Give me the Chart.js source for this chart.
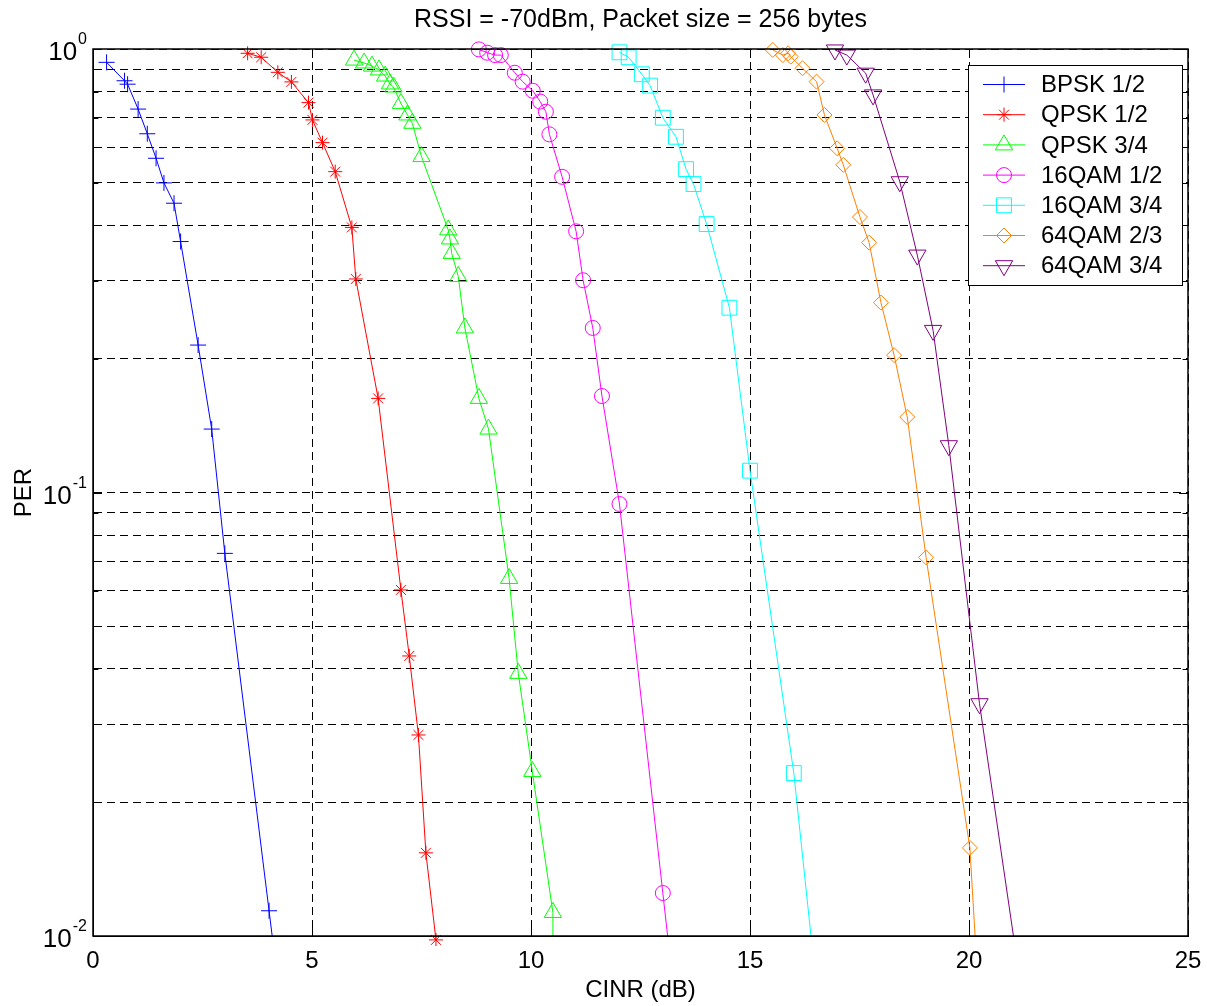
<!DOCTYPE html>
<html>
<head>
<meta charset="utf-8">
<script src="https://cdn.jsdelivr.net/npm/chart.js@4.4.0/dist/chart.umd.min.js"></script>
<style>
  html, body { margin: 0; padding: 0; background: #fff; }
  #wrap { width: 1207px; height: 1006px; position: relative; }
</style>
</head>
<body>
<div id="wrap"><canvas id="per-chart"></canvas></div>
<script>
// --- data (CINR in dB, PER) ---
const xTicks = [0, 5, 10, 15, 20, 25];
const yMajor = [1, 0.1, 0.01];
const labels = ['BPSK 1/2', 'QPSK 1/2', 'QPSK 3/4', '16QAM 1/2', '16QAM 3/4', '64QAM 2/3', '64QAM 3/4'];

const bpskCinr = [0.31, 0.72, 0.79, 1.03, 1.24, 1.44, 1.62, 1.85, 2.0, 2.4, 2.71, 3.01, 4.02, 4.5];
const bpskPer  = [0.933, 0.848, 0.833, 0.732, 0.644, 0.567, 0.499, 0.449, 0.368, 0.215, 0.139, 0.0729, 0.0114, 0.0047];

const qpsk12Cinr = [3.53, 3.84, 4.22, 4.53, 4.92, 5.01, 5.24, 5.53, 5.91, 6.0, 6.51, 7.03, 7.22, 7.43, 7.6, 7.83];
const qpsk12Per  = [0.978, 0.958, 0.886, 0.843, 0.757, 0.692, 0.615, 0.529, 0.396, 0.303, 0.163, 0.0603, 0.0428, 0.0284, 0.0154, 0.0098];

const qpsk34Cinr = [5.96, 6.19, 6.37, 6.53, 6.67, 6.78, 6.86, 7.03, 7.18, 7.29, 7.5, 8.11, 8.15, 8.19, 8.34, 8.49, 8.81, 9.03, 9.5, 9.71, 10.03, 10.5, 10.52];
const qpsk34Per  = [0.944, 0.93, 0.915, 0.897, 0.869, 0.834, 0.821, 0.754, 0.71, 0.68, 0.572, 0.391, 0.373, 0.346, 0.307, 0.235, 0.163, 0.139, 0.064, 0.0391, 0.0235, 0.0113, 0.001];

const qam16r12Cinr = [8.81, 9.0, 9.18, 9.31, 9.63, 9.81, 10.04, 10.21, 10.34, 10.42, 10.71, 11.03, 11.19, 11.41, 11.62, 12.02, 13.01, 13.5];
const qam16r12Per  = [0.998, 0.981, 0.969, 0.969, 0.884, 0.844, 0.805, 0.761, 0.722, 0.642, 0.515, 0.388, 0.301, 0.235, 0.165, 0.0942, 0.0125, 0.0046];

const qam16r34Cinr = [12.02, 12.23, 12.53, 12.72, 13.01, 13.31, 13.54, 13.71, 14.01, 14.53, 15.0, 16.0, 17.0];
const qam16r34Per  = [0.983, 0.958, 0.877, 0.827, 0.7, 0.634, 0.536, 0.496, 0.403, 0.261, 0.112, 0.0233, 0.0027];

const qam64r23Cinr = [15.52, 15.75, 15.87, 15.93, 16.2, 16.52, 16.7, 16.99, 17.13, 17.51, 17.72, 17.99, 18.29, 18.59, 19.02, 20.02, 20.5];
const qam64r23Per  = [0.995, 0.969, 0.978, 0.961, 0.905, 0.844, 0.71, 0.597, 0.548, 0.418, 0.366, 0.268, 0.204, 0.148, 0.0714, 0.0158, 0.0025];

const qam64r34Cinr = [16.94, 17.21, 17.64, 17.81, 18.42, 18.82, 19.18, 19.54, 20.24, 21.5];
const qam64r34Per  = [0.995, 0.969, 0.882, 0.788, 0.502, 0.343, 0.232, 0.1275, 0.0334, 0.0047];

// --- look of each curve (matlab style markers) ---
const FONT = '"Liberation Sans", Arial, Helvetica, sans-serif';
const styles = [
  { color: '#0000ff', point: 'cross',    radius: 8,    rotation: 0 },
  { color: '#ff0000', point: 'star',     radius: 7,    rotation: 0 },
  { color: '#00ff00', point: 'triangle', radius: 10,   rotation: 0 },
  { color: '#ff00ff', point: 'circle',   radius: 7.5,  rotation: 0 },
  { color: '#00ffff', point: 'rect',     radius: 10.5, rotation: 0 },
  { color: '#ff8000', point: 'rectRot',  radius: 7.5,  rotation: 0 },
  { color: '#800080', point: 'triangle', radius: 10,   rotation: 180 }
];
const seriesX = [bpskCinr, qpsk12Cinr, qpsk34Cinr, qam16r12Cinr, qam16r34Cinr, qam64r23Cinr, qam64r34Cinr];
const seriesY = [bpskPer, qpsk12Per, qpsk34Per, qam16r12Per, qam16r34Per, qam64r23Per, qam64r34Per];

const datasets = labels.map((label, i) => {
  const st = styles[i];
  return {
    label: label,
    data: seriesX[i].map((x, k) => ({ x: x, y: seriesY[i][k] })),
    borderColor: st.color,
    borderWidth: 1,
    backgroundColor: 'rgba(0,0,0,0)',
    pointStyle: st.point,
    pointRadius: st.radius,
    pointRotation: st.rotation,
    pointBorderColor: st.color,
    pointBackgroundColor: 'rgba(0,0,0,0)',
    pointBorderWidth: 1,
    tension: 0,
    // markers may poke above the top border; the star at the bottom too
    clip: { left: 0, top: 14, right: 0, bottom: i === 1 ? 10 : 0 }
  };
});

// minor log grid: 1..9 x each decade
const yGridTicks = [];
[0.01, 0.1].forEach(dec => { for (let m = 1; m < 10; m++) yGridTicks.push(+(m * dec).toPrecision(3)); });
yGridTicks.push(1);

// --- plugin: 10^n labels on y axis ---
const yLabelPlugin = {
  id: 'yPowLabels',
  afterDraw(chart) {
    const ctx = chart.ctx;
    const ys = chart.scales.y;
    const right = chart.chartArea.left - 6;
    ctx.save();
    ctx.fillStyle = '#000';
    ctx.textAlign = 'right';
    ctx.textBaseline = 'alphabetic';
    yMajor.forEach(v => {
      const py = ys.getPixelForValue(v);
      const exp = String(Math.round(Math.log10(v)));
      ctx.font = '16px ' + FONT;
      const ew = ctx.measureText(exp).width;
      ctx.fillText(exp, right, py - 5);
      ctx.font = '26px ' + FONT;
      ctx.fillText('10', right - ew - 1, py + 11);
    });
    ctx.restore();
  }
};

// --- plugin: box round the axes and inward ticks ---
const boxPlugin = {
  id: 'axesBox',
  afterDatasetsDraw(chart) {
    const ctx = chart.ctx;
    const a = chart.chartArea;
    const tl = 9;
    ctx.save();
    ctx.strokeStyle = '#000';
    ctx.lineWidth = 1;
    ctx.setLineDash([]);
    ctx.beginPath();
    chart.scales.x.ticks.forEach(t => {
      const px = Math.round(chart.scales.x.getPixelForValue(t.value)) + 0.5;
      ctx.moveTo(px, a.bottom); ctx.lineTo(px, a.bottom - tl);
      ctx.moveTo(px, a.top); ctx.lineTo(px, a.top + tl);
    });
    yGridTicks.forEach(v => {
      const py = Math.round(chart.scales.y.getPixelForValue(v)) + 0.5;
      const len = yMajor.includes(v) ? tl : tl * 0.6;
      ctx.moveTo(a.left, py); ctx.lineTo(a.left + len, py);
      ctx.moveTo(a.right, py); ctx.lineTo(a.right - len, py);
    });
    ctx.stroke();
    ctx.lineWidth = 1.5;
    ctx.strokeRect(Math.round(a.left), Math.round(a.top), Math.round(a.right - a.left), Math.round(a.bottom - a.top));
    ctx.restore();
  }
};

// --- plugin: matlab-like legend box in the upper right ---
const legendPlugin = {
  id: 'boxLegend',
  afterDraw(chart) {
    const ctx = chart.ctx;
    const a = chart.chartArea;
    const w = 214, rowH = 30.2;
    const h = Math.round(rowH * labels.length + 9);
    const left = Math.round(a.right - 6 - w), top = Math.round(a.top + 16);
    ctx.save();
    ctx.fillStyle = '#fff';
    ctx.fillRect(left, top, w, h);
    ctx.strokeStyle = '#000';
    ctx.lineWidth = 1;
    ctx.strokeRect(left + 0.5, top + 0.5, w, h);
    labels.forEach((lab, i) => {
      const st = styles[i];
      const cy = top + 19.5 + i * rowH;
      ctx.strokeStyle = st.color;
      ctx.lineWidth = 1;
      ctx.beginPath();
      ctx.moveTo(left + 15, cy); ctx.lineTo(left + 57, cy);
      ctx.stroke();
      ctx.fillStyle = 'rgba(0,0,0,0)';
      Chart.helpers.drawPoint(ctx, {
        pointStyle: st.point, rotation: st.rotation, radius: st.radius, borderWidth: 1
      }, left + 36, cy);
      ctx.fillStyle = '#000';
      ctx.font = '24px ' + FONT;
      ctx.textAlign = 'left';
      ctx.textBaseline = 'middle';
      ctx.fillText(lab, left + 73, cy + 1);
    });
    ctx.restore();
  }
};

new Chart(document.getElementById('per-chart'), {
  type: 'line',
  data: { datasets: datasets },
  plugins: [boxPlugin, yLabelPlugin, legendPlugin],
  options: {
    responsive: true,
    maintainAspectRatio: false,
    animation: false,
    layout: { padding: { left: 0, right: 19, top: 0, bottom: 0 } },
    plugins: {
      legend: { display: false },
      tooltip: { enabled: false },
      title: {
        display: true,
        fullSize: false,
        text: 'RSSI = -70dBm, Packet size = 256 bytes',
        color: '#000',
        font: { family: FONT, size: 25, weight: 'normal' },
        padding: { top: 5, bottom: 14 }
      }
    },
    scales: {
      x: {
        type: 'linear',
        min: 0, max: 25,
        afterBuildTicks: s => { s.ticks = xTicks.map(v => ({ value: v })); },
        afterFit: s => { s.height = 70; s.paddingLeft = 0; s.paddingRight = 0; },
        ticks: { color: '#000', font: { family: FONT, size: 24 }, padding: 11, maxRotation: 0 },
        grid: { color: '#000', lineWidth: 1, drawTicks: false },
        border: { display: true, color: '#000', width: 1, dash: [8, 5] },
        title: { display: true, text: 'CINR (dB)', color: '#000', font: { family: FONT, size: 24 }, padding: { top: 0, bottom: 1 } }
      },
      y: {
        type: 'logarithmic',
        min: 0.01, max: 1,
        afterBuildTicks: s => { s.ticks = yGridTicks.map(v => ({ value: v })); },
        afterFit: s => { s.width = 93; s.paddingTop = 0; s.paddingBottom = 0; },
        ticks: { callback: () => '', padding: 0 },
        grid: { color: '#000', lineWidth: 1, drawTicks: false },
        border: { display: true, color: '#000', width: 1, dash: [8, 5] },
        title: { display: true, text: 'PER', color: '#000', font: { family: FONT, size: 24 }, padding: { top: 10, bottom: 0 } }
      }
    }
  }
});
</script>
</body>
</html>
